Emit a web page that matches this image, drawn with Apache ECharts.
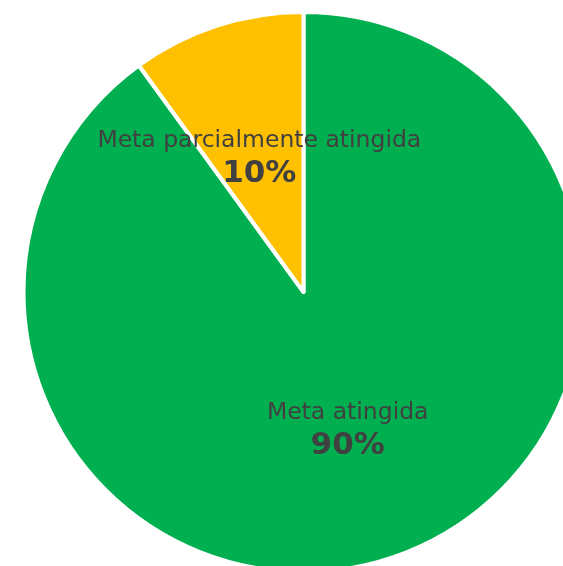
<!DOCTYPE html>
<html>
<head>
<meta charset="utf-8">
<script src="https://cdn.jsdelivr.net/npm/echarts@6/dist/echarts.min.js"></script>
<style>
html,body{margin:0;padding:0;background:#fff;}
#chart{width:563px;height:566px;}
</style>
</head>
<body>
<div id="chart"></div>
<script>
const categories = ["Meta atingida", "Meta parcialmente atingida"];
const values = [90, 10];
const colors = ["#00B050", "#FFC000"];

const chart = echarts.init(document.getElementById('chart'), null, {renderer: 'canvas'});
chart.setOption({
  animation: false,
  series: [{
    type: 'pie',
    center: [303.5, 292],
    radius: [0, 280],
    startAngle: 90,
    clockwise: true,
    avoidLabelOverlap: false,
    itemStyle: {borderColor: '#ffffff', borderWidth: 4},
    label: {
      show: true,
      position: 'inside',
      offset: [0, 3],
      formatter: function (p) { return '{n|' + p.name + '}\n{v|' + p.value + '%}'; },
      rich: {
        n: {fontFamily: 'DejaVu Sans', fontSize: 23.5, color: '#404040', lineHeight: 30, align: 'center'},
        v: {fontFamily: 'DejaVu Sans', fontSize: 31, fontWeight: 'bold', color: '#404040', lineHeight: 36, align: 'center'}
      }
    },
    labelLine: {show: false},
    emphasis: {disabled: true},
    data: categories.map((c, i) => ({name: c, value: values[i], itemStyle: {color: colors[i]}}))
  }]
});
</script>
</body>
</html>
